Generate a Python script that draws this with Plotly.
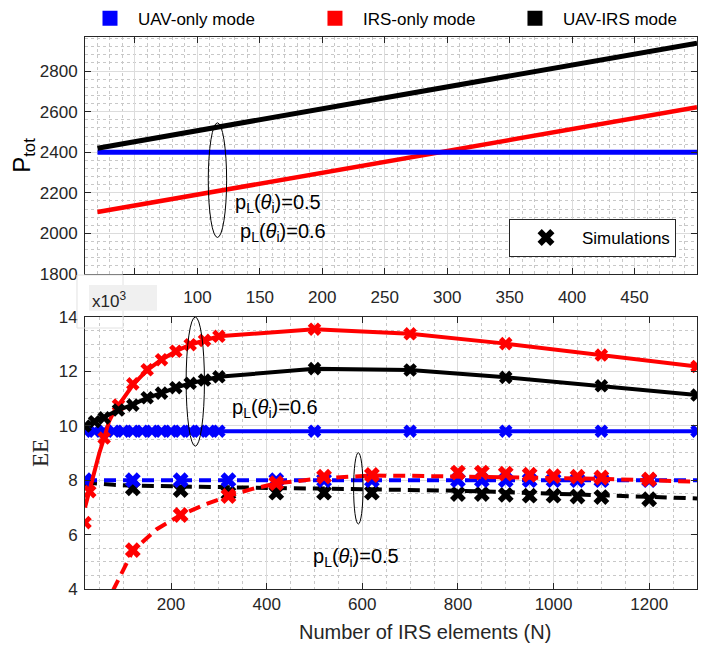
import plotly.graph_objects as go

FONT = "Liberation Sans, Arial, Helvetica, sans-serif"
SERIF = "Liberation Serif, DejaVu Serif, serif"

# ---------------- top panel: total power ----------------
N_top = [20, 500]
P_uav = [2400, 2400]
P_irs = [2105, 2622]
P_hyb = [2420, 2938]

top_xticks = [50, 100, 150, 200, 250, 300, 350, 400, 450]
top_xtext = ["", "100", "150", "200", "250", "300", "350", "400", "450"]
top_yticks = [1800, 2000, 2200, 2400, 2600, 2800]

# ---------------- bottom panel: energy efficiency ----------------
# p_L(theta_i)=0.6 : analytical (solid)
N_a6_irs = [20, 30, 40, 50, 60, 70, 80, 90, 100, 120, 150, 180, 210, 240, 270, 300, 500, 700, 900, 1100, 1300]
EE_a6_irs = [7.0, 7.7, 8.4, 9.0, 9.55, 10.15, 10.5, 10.75, 11.0, 11.5, 12.05, 12.43, 12.74, 12.98, 13.14, 13.29,
             13.55, 13.38, 13.02, 12.6, 12.18]
N_a6_hyb = [20, 40, 60, 90, 120, 150, 180, 210, 240, 270, 300, 500, 700, 900, 1100, 1300]
EE_a6_hyb = [9.98, 10.15, 10.29, 10.58, 10.78, 11.03, 11.2, 11.4, 11.56, 11.68, 11.8, 12.1, 12.05, 11.78, 11.47, 11.13]
N_a6_uav = [20, 1300]
EE_a6_uav = [9.8, 9.8]

# p_L(theta_i)=0.6 : simulations
N_s6_uav = [20, 40, 60, 80, 100, 120, 140, 160, 180, 200, 220, 240, 260, 280, 300, 500, 700, 900, 1100, 1300]
EE_s6_uav = [9.8, 9.8, 9.8, 9.8, 9.8, 9.8, 9.8, 9.8, 9.8, 9.8, 9.8, 9.8, 9.8, 9.8, 9.8, 9.8, 9.8, 9.8, 9.8, 9.8]
N_s6_irs = [20, 30, 60, 90, 120, 150, 180, 210, 240, 270, 300, 500, 700, 900, 1100, 1300]
EE_s6_irs = [6.44, 7.58, 9.55, 10.76, 11.54, 12.06, 12.43, 12.74, 12.98, 13.14, 13.29, 13.55, 13.38, 13.02, 12.6, 12.18]
N_s6_hyb = [20, 40, 60, 90, 120, 150, 180, 210, 240, 270, 300, 500, 700, 900, 1100, 1300]
EE_s6_hyb = [9.99, 10.15, 10.29, 10.58, 10.76, 11.03, 11.2, 11.4, 11.56, 11.68, 11.8, 12.1, 12.05, 11.78, 11.47, 11.13]

# p_L(theta_i)=0.5 : analytical (dashed)
N_a5 = [20, 50, 80, 120, 170, 220, 270, 320, 370, 420, 520, 620, 700, 800, 900, 1000, 1100, 1200, 1300]
EE_a5_irs = [0.6, 2.65, 4.0, 5.4, 6.2, 6.72, 7.1, 7.42, 7.68, 7.88, 8.08, 8.17, 8.16, 8.14, 8.11, 8.08, 8.05, 8.0, 7.94]
EE_a5_hyb = [7.92, 7.86, 7.83, 7.8, 7.78, 7.76, 7.74, 7.73, 7.72, 7.71, 7.69, 7.67, 7.65, 7.61, 7.56, 7.51, 7.45,
             7.39, 7.33]
N_a5_uav = [20, 1300]
EE_a5_uav = [8.0, 8.0]

# p_L(theta_i)=0.5 : simulations
N_s5 = [20, 120, 220, 320, 420, 520, 620, 800, 850, 900, 950, 1000, 1050, 1100, 1200]
EE_s5_uav = [8.0, 8.0, 8.0, 8.0, 8.0, 8.0, 8.0, 8.0, 8.0, 8.0, 8.0, 8.0, 8.0, 8.0, 8.0]
EE_s5_hyb = [7.95, 7.7, 7.64, 7.52, 7.54, 7.54, 7.54, 7.49, 7.49, 7.46, 7.43, 7.43, 7.4, 7.38, 7.3]
N_s5_irs = [120, 220, 320, 420, 520, 620, 800, 850, 900, 950, 1000, 1050, 1100, 1200]
EE_s5_irs = [5.43, 6.72, 7.42, 7.89, 8.13, 8.19, 8.28, 8.28, 8.24, 8.2, 8.15, 8.13, 8.1, 8.03]

bot_xticks = [200, 400, 600, 800, 1000, 1200]
bot_yticks = [4, 6, 8, 10, 12, 14]

BLUE, RED, BLACK = "#0000ff", "#ff0000", "#000000"
DASH = "12px,7px"

fig = go.Figure()

# top lines
for y, c, w in [(P_irs, RED, 4.5), (P_uav, BLUE, 5), (P_hyb, BLACK, 5)]:
    fig.add_trace(go.Scatter(x=N_top, y=y, mode="lines", line=dict(color=c, width=w),
                             showlegend=False, xaxis="x", yaxis="y", hoverinfo="skip"))


def line(x, y, c, dash=None):
    fig.add_trace(go.Scatter(x=x, y=y, mode="lines", line=dict(color=c, width=4, dash=dash),
                             showlegend=False, xaxis="x2", yaxis="y2", hoverinfo="skip"))


def sims(x, y, c, size):
    fig.add_trace(go.Scatter(x=x, y=y, mode="markers",
                             marker=dict(symbol="x", size=size, color=c, line=dict(width=0)),
                             showlegend=False, xaxis="x2", yaxis="y2"))


line(N_a5, EE_a5_hyb, BLACK, DASH)
sims(N_s5, EE_s5_hyb, BLACK, 14)
line(N_a5_uav, EE_a5_uav, BLUE, DASH)
sims(N_s5, EE_s5_uav, BLUE, 14)
line(N_a5, EE_a5_irs, RED, DASH)
sims(N_s5_irs, EE_s5_irs, RED, 14)

line(N_a6_uav, EE_a6_uav, BLUE)
sims(N_s6_uav, EE_s6_uav, BLUE, 12)
line(N_a6_irs, EE_a6_irs, RED)
sims(N_s6_irs, EE_s6_irs, RED, 12)
line(N_a6_hyb, EE_a6_hyb, BLACK)
sims(N_s6_hyb, EE_s6_hyb, BLACK, 12)

# legend entries
for name, c, lg in [("UAV-only mode", BLUE, "legend"), ("IRS-only mode", RED, "legend2"),
                    ("UAV-IRS mode", BLACK, "legend3")]:
    fig.add_trace(go.Scatter(x=[None], y=[None], mode="markers", name=name, legend=lg,
                             marker=dict(symbol="square", size=15, color=c), xaxis="x", yaxis="y"))
fig.add_trace(go.Scatter(x=[None], y=[None], mode="markers", name="Simulations", legend="legend4",
                         marker=dict(symbol="x", size=15, color=BLACK, line=dict(width=0)),
                         xaxis="x", yaxis="y"))

AX = "#262626"
tickfont = dict(family=FONT, size=17, color=AX)
base = dict(showline=True, linecolor=AX, linewidth=1, mirror="ticks", ticks="inside", ticklen=6,
            tickcolor=AX, showgrid=True, gridcolor="#dcdcdc", gridwidth=1, zeroline=False,
            tickfont=tickfont)


def minor(d):
    return dict(dtick=d, showgrid=True, griddash="dot", gridcolor="#c8c8c8", gridwidth=1, ticks="")


leg_common = dict(orientation="h", yanchor="middle", xanchor="left", y=1.033,
                  font=dict(family=FONT, size=17, color=BLACK), bgcolor="rgba(0,0,0,0)", itemwidth=46)

# the page body has an 8px margin, so the figure is drawn 8px in from the top-left corner
fig.update_layout(
    width=698, height=642,
    margin=dict(l=77, r=9, t=29, b=61, autoexpand=False),
    paper_bgcolor="white", plot_bgcolor="rgba(0,0,0,0)",
    font=dict(family=FONT, size=17, color=AX),
    xaxis=dict(base, domain=[0, 1], anchor="y", range=[10, 500], tickvals=top_xticks,
               ticktext=top_xtext, minor=minor(10), ticklabelstandoff=8),
    yaxis=dict(base, domain=[0.5707, 1], anchor="x", range=[1800, 2968], tickvals=top_yticks,
               minor=minor(40), ticklabelstandoff=3,
               title=dict(text="P<sub>tot</sub>", font=dict(family=FONT, size=24, color=BLACK),
                          standoff=6)),
    xaxis2=dict(base, domain=[0, 1], anchor="y2", range=[20, 1300], tickvals=bot_xticks,
                minor=minor(50), ticklabelstandoff=0),
    yaxis2=dict(base, domain=[0, 0.4928], anchor="x2", range=[4, 14], tickvals=bot_yticks,
                minor=minor(0.5), ticklabelstandoff=3,
                title=dict(text="EE", font=dict(family=SERIF, size=23, color=AX), standoff=3)),
    legend=dict(leg_common, x=-0.0049),
    legend2=dict(leg_common, x=0.3627),
    legend3=dict(leg_common, x=0.6895),
    legend4=dict(x=0.6928, y=0.6703, xanchor="left", yanchor="top", bgcolor="white",
                 bordercolor=AX, borderwidth=1, font=dict(family=FONT, size=17, color=BLACK),
                 itemwidth=62),
)

shapes = [
    # exponent label box (MATLAB artefact)
    dict(type="rect", xref="paper", yref="paper", x0=-0.0131, x1=0.0621, y0=0.4728, y1=0.5688,
         line=dict(color="#e2e2e2", width=1), fillcolor="rgba(0,0,0,0)", layer="above"),
    dict(type="rect", xref="paper", yref="paper", x0=0.0065, x1=0.1176, y0=0.5042, y1=0.5507,
         line=dict(width=0), fillcolor="#f0f0f0", layer="above"),
    # ellipses
    dict(type="circle", xref="x", yref="y", x0=108.7, x1=123.4, y0=1980, y1=2545,
         line=dict(color=BLACK, width=1)),
    dict(type="circle", xref="x2", yref="y2", x0=231.5, x1=269.8, y0=9.25, y1=14.0,
         line=dict(color=BLACK, width=1)),
    dict(type="circle", xref="x2", yref="y2", x0=581.8, x1=601.5, y0=6.39, y1=9.01,
         line=dict(color=BLACK, width=1)),
]
fig.update_layout(shapes=shapes)

lab = "p<sub>L</sub>(<i>θ</i><sub>i</sub>)="
ann_font = dict(family=FONT, size=20, color=BLACK)
annotations = [
    dict(x=128.4, y=2149, xref="x", yref="y", text=lab + "0.5", showarrow=False, xanchor="left",
         yanchor="middle", font=ann_font),
    dict(x=132.4, y=2002, xref="x", yref="y", text=lab + "0.6", showarrow=False, xanchor="left",
         yanchor="middle", font=ann_font),
    dict(x=323.6, y=10.65, xref="x2", yref="y2", text=lab + "0.6", showarrow=False, xanchor="left",
         yanchor="middle", font=ann_font),
    dict(x=492.6, y=5.14, xref="x2", yref="y2", text=lab + "0.5", showarrow=False, xanchor="left",
         yanchor="middle", font=ann_font),
    dict(x=0.008, y=0.5236, xref="paper", yref="paper", text="x10<sup>3</sup>", showarrow=False,
         xanchor="left", yanchor="middle", font=dict(family=FONT, size=17, color=AX)),
    dict(x=(425 - 85) / 612, y=(589 - 632) / 552, xref="paper", yref="paper",
         text="Number of IRS elements (N)", showarrow=False, xanchor="center", yanchor="middle",
         font=dict(family=FONT, size=20, color=AX)),
]
fig.update_layout(annotations=annotations)

fig.write_html("out.html")
